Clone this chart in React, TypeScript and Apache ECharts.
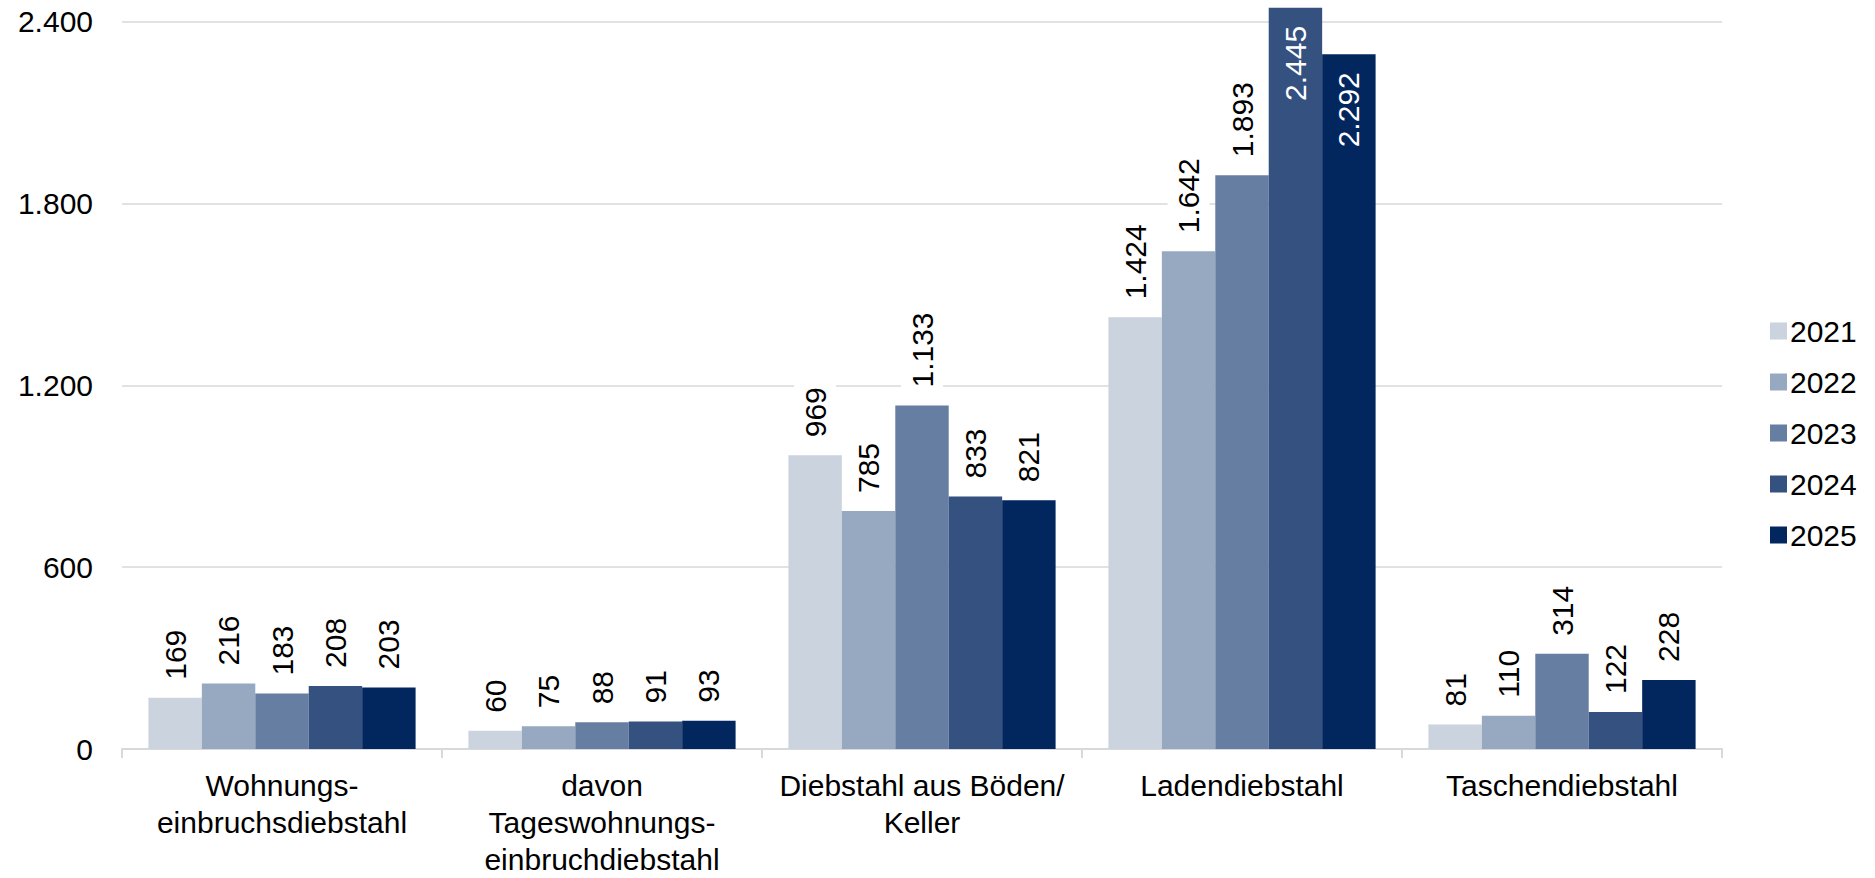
import React, { useEffect, useRef } from "react";
import * as echarts from "echarts";

const categories = [
  "Wohnungs-\neinbruchsdiebstahl",
  "davon\nTageswohnungs-\neinbruchdiebstahl",
  "Diebstahl aus Böden/\nKeller",
  "Ladendiebstahl",
  "Taschendiebstahl",
];
const years = ["2021", "2022", "2023", "2024", "2025"];
const v2021 = [169, 60, 969, 1424, 81];
const v2022 = [216, 75, 785, 1642, 110];
const v2023 = [183, 88, 1133, 1893, 314];
const v2024 = [208, 91, 833, 2445, 122];
const v2025 = [203, 93, 821, 2292, 228];
const seriesValues = [v2021, v2022, v2023, v2024, v2025];
const colors = ["#cbd3df", "#97a8c1", "#667ea2", "#34517f", "#02275f"];

const fmt = (v: number) => String(v).replace(/\B(?=(\d{3})+(?!\d))/g, ".");
const FONT = "Arial, 'Liberation Sans', sans-serif";

export default function App() {
  const ref = useRef<HTMLDivElement>(null);
  useEffect(() => {
    if (!ref.current) return;
    const chart = echarts.init(ref.current, undefined, { renderer: "svg" });
    const outsideLabel = {
      show: true,
      position: "top",
      rotate: 90,
      align: "left",
      verticalAlign: "middle",
      distance: 15,
      fontSize: 30,
      fontFamily: FONT,
      color: "#000",
      backgroundColor: "#ffffff",
      padding: [6, 3],
      formatter: (p: any) => fmt(p.value),
    };
    const insideLabel = {
      show: true,
      position: "insideTop",
      rotate: 90,
      align: "right",
      verticalAlign: "middle",
      distance: 18,
      fontSize: 30,
      fontFamily: FONT,
      color: "#ffffff",
      backgroundColor: "transparent",
      padding: 0,
      formatter: (p: any) => fmt(p.value),
    };
    const series = seriesValues.map((vals, i) => ({
      name: years[i],
      type: "bar",
      barGap: "0%",
      barCategoryGap: "16.5%",
      clip: false,
      itemStyle: { color: colors[i] },
      label: outsideLabel,
      data: vals.map((v) => (v > 2100 ? { value: v, label: insideLabel } : v)),
    }));
    chart.setOption({
      animation: false,
      backgroundColor: "#ffffff",
      textStyle: { fontFamily: FONT },
      grid: { left: 122, right: 153, top: 21.5, bottom: 127, containLabel: false },
      legend: {
        orient: "vertical",
        left: 1765,
        top: 309,
        itemWidth: 17,
        itemHeight: 17,
        itemGap: 17,
        icon: "rect",
        textStyle: { fontSize: 30, fontFamily: FONT, color: "#000", lineHeight: 34, padding: [0, 0, 0, -2] },
        data: years,
      },
      xAxis: {
        type: "category",
        data: categories,
        axisLine: { show: true, lineStyle: { color: "#d9d9d9", width: 2 } },
        axisTick: { show: true, length: 9, lineStyle: { color: "#d9d9d9", width: 2 } },
        axisLabel: {
          fontSize: 30,
          fontFamily: FONT,
          color: "#000",
          lineHeight: 37,
          margin: 18,
          interval: 0,
        },
      },
      yAxis: {
        type: "value",
        min: 0,
        max: 2400,
        interval: 600,
        axisLine: { show: false },
        axisTick: { show: false },
        splitLine: { lineStyle: { color: "#d9d9d9", width: 1.5 } },
        axisLabel: {
          fontSize: 30,
          fontFamily: FONT,
          color: "#000",
          margin: 29,
          formatter: (v: number) => fmt(v),
        },
      },
      series,
    });
    return () => chart.dispose();
  }, []);
  return (
    <div
      ref={ref}
      style={{ position: "fixed", left: 0, top: 0, width: 1875, height: 878, background: "#fff" }}
    />
  );
}
